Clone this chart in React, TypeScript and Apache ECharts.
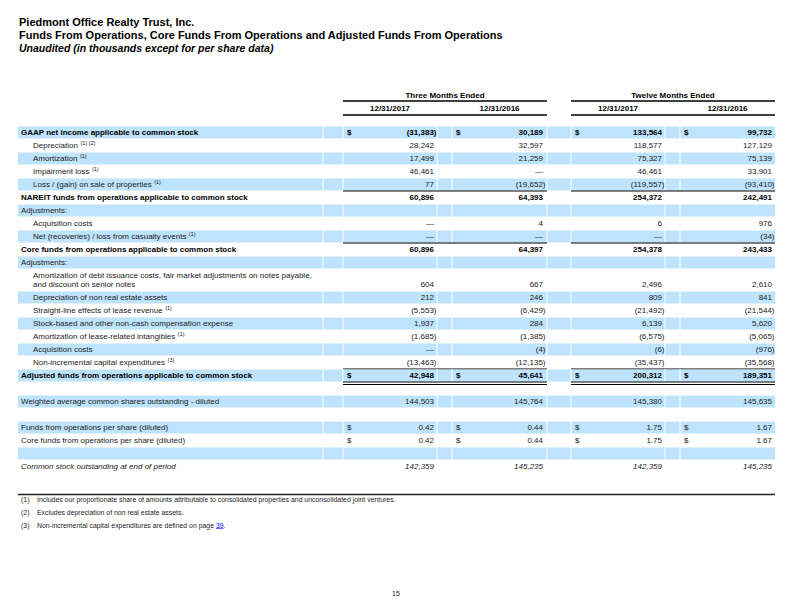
import React, { useEffect, useRef } from "react";
import * as echarts from "echarts";

// ---------------- data ----------------
const titleLines = [
  "Piedmont Office Realty Trust, Inc.",
  "Funds From Operations, Core Funds From Operations and Adjusted Funds From Operations",
];
const subtitle = "Unaudited (in thousands except for per share data)";
const periodHeaders = ["Three Months Ended", "Twelve Months Ended"];
const dateHeaders = ["12/31/2017", "12/31/2016", "12/31/2017", "12/31/2016"];

const rowLabels = [
  "GAAP net income applicable to common stock",
  "Depreciation",
  "Amortization",
  "Impairment loss",
  "Loss / (gain) on sale of properties",
  "NAREIT funds from operations applicable to common stock",
  "Adjustments:",
  "Acquisition costs",
  "Net (recoveries) / loss from casualty events",
  "Core funds from operations applicable to common stock",
  "Adjustments:",
  "Amortization of debt issuance costs, fair market adjustments on notes payable,\nand discount on senior notes",
  "Depreciation of non real estate assets",
  "Straight-line effects of lease revenue",
  "Stock-based and other non-cash compensation expense",
  "Amortization of lease-related intangibles",
  "Acquisition costs",
  "Non-incremental capital expenditures",
  "Adjusted funds from operations applicable to common stock",
  "",
  "Weighted average common shares outstanding - diluted",
  "",
  "Funds from operations per share (diluted)",
  "Core funds from operations per share (diluted)",
  "",
  "Common stock outstanding at end of period",
];
const rowRefs = [
  "", "(1) (2)", "(1)", "(1)", "(1)", "", "", "", "(1)", "", "", "", "", "(1)", "",
  "(1)", "", "(3)", "", "", "", "", "", "", "", "",
];
const rowKinds = [
  "total", "item", "item", "item", "item", "total", "section", "item", "item", "total",
  "section", "item", "item", "item", "item", "item", "item", "item", "total", "blank",
  "plain", "blank", "plain", "plain", "blank", "italic",
];
const threeMonths2017 = [
  "(31,383)", "28,242", "17,499", "46,461", "77", "60,896", "", "—", "—", "60,896",
  "", "604", "212", "(5,553)", "1,937", "(1,685)", "—", "(13,463)", "42,948", "",
  "144,503", "", "0.42", "0.42", "", "142,359",
];
const threeMonths2016 = [
  "30,189", "32,597", "21,259", "—", "(19,652)", "64,393", "", "4", "—", "64,397",
  "", "667", "246", "(6,429)", "284", "(1,385)", "(4)", "(12,135)", "45,641", "",
  "145,764", "", "0.44", "0.44", "", "145,235",
];
const twelveMonths2017 = [
  "133,564", "118,577", "75,327", "46,461", "(119,557)", "254,372", "", "6", "—", "254,378",
  "", "2,496", "809", "(21,492)", "6,139", "(6,575)", "(6)", "(35,437)", "200,312", "",
  "145,380", "", "1.75", "1.75", "", "142,359",
];
const twelveMonths2016 = [
  "99,732", "127,129", "75,139", "33,901", "(93,410)", "242,491", "", "976", "(34)", "243,433",
  "", "2,610", "841", "(21,544)", "5,620", "(5,065)", "(976)", "(35,568)", "189,351", "",
  "145,635", "", "1.67", "1.67", "", "145,235",
];
const dollarRows = [0, 18, 22, 23];
const singleRuleRows = [4, 8, 17];
const doubleRuleRows = [18];
const footnoteMarks = ["(1)", "(2)", "(3)"];
const footnoteTexts = [
  "Includes our proportionate share of amounts attributable to consolidated properties and unconsolidated joint ventures.",
  "Excludes depreciation of non real estate assets.",
  "Non-incremental capital expenditures are defined on page ",
];
const footnoteLink = "39";
const pageNumber = "15";

// ---------------- layout / style ----------------
const FONT = "'Liberation Sans', Arial, Helvetica, sans-serif";
const BLUE = "#BEE3FC";
const INK = "#1c1c1c";
const TABLE_L = 18;
const TABLE_R = 775;
const ROW_TOP = 126;
const ROW_H = 13;
const EXTRA_LINE_H = 9;
const LABEL_X = 21;
const INDENT_X = 33;
const NUM_RIGHT = [434, 543, 662, 772];
const DOLLAR_X = [347, 456, 575, 684];
const DATE_CX = [390, 499.5, 618, 727.5];
const GROUP_SPANS = [
  [343, 547],
  [571, 775],
];
const CELL_SEPS = [323, 343, 437, 452, 547, 571, 665, 680];

let measureCtx: CanvasRenderingContext2D | null = null;
function measure(text: string, size: number, weight = "normal", style = "normal") {
  if (!measureCtx) measureCtx = document.createElement("canvas").getContext("2d");
  if (!measureCtx) return text.length * size * 0.5;
  measureCtx.font = `${style} ${weight} ${size}px ${FONT}`;
  return measureCtx.measureText(text).width;
}

function txt(
  text: string,
  x: number,
  y: number,
  o: { size?: number; weight?: string; style?: string; align?: string; fill?: string; lineHeight?: number } = {}
) {
  const align = o.align || "left";
  return {
    type: "text",
    x,
    y,
    silent: true,
    style: {
      text,
      fill: o.fill || INK,
      fontSize: o.size || 8,
      fontFamily: FONT,
      fontWeight: o.weight || "normal",
      fontStyle: o.style || "normal",
      align,
      textAlign: align,
      verticalAlign: "middle",
      textVerticalAlign: "middle",
      lineHeight: o.lineHeight || (o.size || 8) + 1,
    },
  };
}

function hline(x1: number, x2: number, y: number, w = 1, color = "#000") {
  return {
    type: "line",
    silent: true,
    shape: { x1, y1: y, x2, y2: y },
    style: { stroke: color, lineWidth: w },
  };
}

function buildOption() {
  const els: any[] = [];

  // Titles
  els.push(txt(titleLines[0], 19, 22, { size: 11, weight: "bold", fill: "#000" }));
  els.push(txt(titleLines[1], 19, 35, { size: 11, weight: "bold", fill: "#000" }));
  els.push(txt(subtitle, 19, 48, { size: 10.5, weight: "bold", style: "italic", fill: "#000" }));

  // Column headers
  periodHeaders.forEach((h, g) => {
    const [a, b] = GROUP_SPANS[g];
    els.push(txt(h, (a + b) / 2, 95, { weight: "bold", align: "center", fill: "#000" }));
    els.push(hline(a, b, 101, 1.3));
    els.push(hline(a, b, 115, 1.3));
  });
  dateHeaders.forEach((d, c) => {
    els.push(txt(d, DATE_CX[c], 108, { weight: "bold", align: "center", fill: "#000" }));
  });

  // Rows
  const cols = [threeMonths2017, threeMonths2016, twelveMonths2017, twelveMonths2016];
  let top = ROW_TOP;
  rowLabels.forEach((label, r) => {
    const lines = label ? label.split("\n").length : 1;
    const h = ROW_H + (lines - 1) * EXTRA_LINE_H;
    const cy = top + h / 2;
    const kind = rowKinds[r];

    if (r % 2 === 0) {
      els.push({
        type: "rect",
        silent: true,
        shape: { x: TABLE_L, y: top + 0.5, width: TABLE_R - TABLE_L, height: h - 1 },
        style: { fill: BLUE },
      });
      CELL_SEPS.forEach((sx) => {
        els.push({
          type: "line",
          silent: true,
          shape: { x1: sx, y1: top, x2: sx, y2: top + h },
          style: { stroke: "#ffffff", lineWidth: 1 },
        });
      });
    }

    const weight = kind === "total" ? "bold" : "normal";
    const fstyle = kind === "italic" ? "italic" : "normal";
    const fill = kind === "total" ? "#000" : INK;
    if (label) {
      const lx = kind === "item" ? INDENT_X : LABEL_X;
      els.push(txt(label, lx, cy, { weight, style: fstyle, fill, lineHeight: EXTRA_LINE_H }));
      const ref = rowRefs[r];
      if (ref) {
        const w = measure(label, 8, weight, fstyle);
        els.push(txt(ref, lx + w + 2.5, cy - 3, { size: 5.5, fill }));
      }
    }

    const vy = lines > 1 ? top + h - 6.5 : cy;
    cols.forEach((col, c) => {
      const v = col[r];
      if (v) {
        const x = NUM_RIGHT[c] + (v.endsWith(")") ? 2.5 : 0);
        els.push(txt(v, x, vy, { weight, style: fstyle, fill, align: "right" }));
      }
      if (dollarRows.includes(r)) {
        els.push(txt("$", DOLLAR_X[c], vy, { weight, fill }));
      }
    });

    const bottom = top + h;
    if (singleRuleRows.includes(r)) {
      GROUP_SPANS.forEach(([a, b]) => els.push(hline(a, b, bottom, 1.2)));
    }
    if (doubleRuleRows.includes(r)) {
      GROUP_SPANS.forEach(([a, b]) => {
        els.push(hline(a, b, bottom, 1));
        els.push(hline(a, b, bottom + 2.5, 1));
      });
    }
    top = bottom;
  });

  // Footnotes
  els.push(hline(TABLE_L, TABLE_R, 494.5, 1.4, "#222"));
  const FN = 6.9;
  footnoteMarks.forEach((m, i) => {
    const y = 499 + i * 13;
    els.push(txt(m, 21, y, { size: FN }));
    els.push(txt(footnoteTexts[i], 37, y, { size: FN }));
    if (i === 2) {
      const w = measure(footnoteTexts[i], FN);
      const lw = measure(footnoteLink, FN);
      els.push(txt(footnoteLink, 37 + w, y, { size: FN, fill: "#0000EE" }));
      els.push(hline(37 + w, 37 + w + lw, y + 3.5, 0.6, "#0000EE"));
      els.push(txt(".", 37 + w + lw, y, { size: FN }));
    }
  });

  els.push(txt(pageNumber, 396, 593, { size: 7, align: "center" }));

  return {
    animation: false,
    backgroundColor: "#ffffff",
    graphic: { elements: els },
  };
}

export default function App() {
  const ref = useRef<HTMLDivElement>(null);
  useEffect(() => {
    if (!ref.current) return;
    const chart = echarts.init(ref.current, undefined, { renderer: "svg" });
    chart.setOption(buildOption() as any);
    return () => chart.dispose();
  }, []);
  return (
    <div
      ref={ref}
      style={{ position: "fixed", left: 0, top: 0, width: 792, height: 612, background: "#fff" }}
    />
  );
}
